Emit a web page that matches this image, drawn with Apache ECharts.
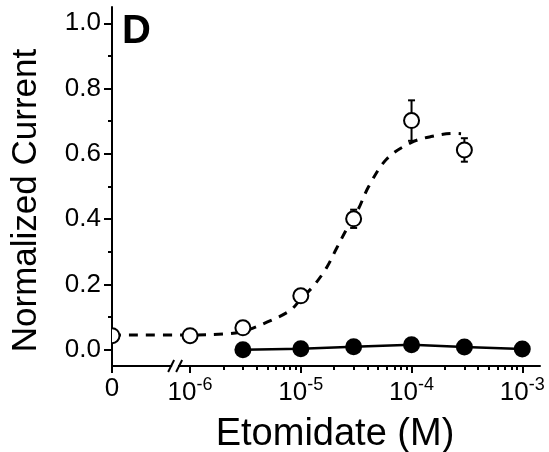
<!DOCTYPE html>
<html>
<head>
<meta charset="utf-8">
<script src="https://cdn.jsdelivr.net/npm/echarts@6/dist/echarts.min.js"></script>
<style>
html,body{margin:0;padding:0;background:#fff;}
#chart{width:549px;height:452px;}
</style>
</head>
<body>
<div id="chart"></div>
<script>
// ---- data ----
const ZERO_POS = -6.705;          // axis position (log10 units) used for concentration 0
const BREAK_POS = -6.135;         // position of the axis break marks
const xTickConc = [0, 1e-6, 1e-5, 1e-4, 1e-3];
const xTickLabels = ['0', '10^-6', '10^-5', '10^-4', '10^-3'];
const yTickValues = [0, 0.2, 0.4, 0.6, 0.8, 1.0];
const yMinorTicks = [0.1, 0.3, 0.5, 0.7, 0.9];

const openConc = [0, 1e-6, 3e-6, 1e-5, 3e-5, 1e-4, 3e-4];
const openMean = [0.043, 0.043, 0.067, 0.165, 0.401, 0.702, 0.612];
const openErr  = [0, 0, 0, 0, 0.028, 0.062, 0.036];

const filledConc = [3e-6, 1e-5, 3e-5, 1e-4, 3e-4, 1e-3];
const filledMean = [0.0, 0.003, 0.009, 0.015, 0.008, 0.002];

const fitConc = [0, 1e-6, 2e-6, 3e-6, 5e-6, 8e-6, 1e-5, 1.3e-5, 1.7e-5, 2.1e-5, 2.6e-5, 3.3e-5, 4.1e-5, 6e-5, 1e-4, 1.5e-4, 2.4e-4, 2.8e-4];
const fitValues = [0.045, 0.045, 0.048, 0.056, 0.085, 0.12, 0.155, 0.195, 0.25, 0.31, 0.37, 0.43, 0.50, 0.585, 0.635, 0.653, 0.663, 0.662];

// ---- helpers ----
function xPos(c){ return c === 0 ? ZERO_POS : Math.log10(c); }
const xTickValues = xTickConc.map(xPos);
const xMinorValues = [];
for (let d = -6; d <= -4; d++) for (let k = 2; k <= 9; k++) xMinorValues.push(Math.log10(k * Math.pow(10, d)));

const FONT = 'Liberation Sans, Arial, Helvetica, sans-serif';

function xLabel(v){
  for (let i = 0; i < xTickValues.length; i++) {
    if (Math.abs(v - xTickValues[i]) < 1e-6) {
      const t = xTickLabels[i];
      if (t.indexOf('^') < 0) return '{z|' + t + '}';
      const p = t.split('^');
      return '{b|' + p[0] + '}{s|' + p[1] + '}';
    }
  }
  return '';
}

const chart = echarts.init(document.getElementById('chart'), null, {renderer: 'canvas'});

const option = {
  animation: false,
  backgroundColor: '#fff',
  grid: {left: 112, right: 9, top: 7, bottom: 86, containLabel: false, outerBoundsMode: 'none'},
  xAxis: [{
    type: 'value', min: ZERO_POS, max: -2.84,
    name: 'Etomidate (M)', nameLocation: 'middle', nameGap: 50,
    nameTextStyle: {fontFamily: FONT, fontSize: 38, color: '#000', padding: [0, 0, 0, 18]},
    axisLine: {show: true, onZero: false, lineStyle: {color: '#000', width: 2}},
    axisTick: {show: true, customValues: xTickValues, length: 7, inside: false, lineStyle: {color: '#000', width: 2}},
    axisLabel: {
      show: true, customValues: xTickValues, margin: 10, color: '#000',
      formatter: xLabel,
      rich: {
        z: {fontFamily: FONT, fontSize: 26, color: '#000', lineHeight: 26},
        b: {fontFamily: FONT, fontSize: 26, color: '#000', lineHeight: 30, verticalAlign: 'bottom'},
        s: {fontFamily: FONT, fontSize: 18, color: '#000', lineHeight: 30, verticalAlign: 'top'}
      }
    },
    splitLine: {show: false}
  }, {
    type: 'value', min: ZERO_POS, max: -2.84, position: 'bottom',
    axisLine: {show: false, onZero: false},
    axisTick: {show: true, customValues: xMinorValues, length: 4, lineStyle: {color: '#000', width: 2}},
    axisLabel: {show: false},
    splitLine: {show: false}
  }],
  yAxis: [{
    type: 'value', min: -0.05, max: 1.05,
    name: 'Normalized Current', nameLocation: 'middle', nameGap: 68, nameRotate: 90,
    nameTextStyle: {fontFamily: FONT, fontSize: 35, color: '#000', padding: [0, 28, 0, 0]},
    axisLine: {show: true, onZero: false, lineStyle: {color: '#000', width: 2}},
    axisTick: {show: true, customValues: yTickValues, length: 8, lineStyle: {color: '#000', width: 2}},
    axisLabel: {show: true, customValues: yTickValues, margin: 11, fontFamily: FONT, fontSize: 26, color: '#000',
      formatter: v => v.toFixed(1)},
    splitLine: {show: false}
  }, {
    type: 'value', min: -0.05, max: 1.05, position: 'left',
    axisLine: {show: false, onZero: false},
    axisTick: {show: true, customValues: yMinorTicks, length: 4, lineStyle: {color: '#000', width: 2}},
    axisLabel: {show: false},
    splitLine: {show: false}
  }],
  series: [{
    name: 'fit', type: 'line', z: 2,
    data: fitConc.map((c, i) => [xPos(c), fitValues[i]]),
    showSymbol: false, symbol: 'none', smooth: 0.35,
    lineStyle: {color: '#000', width: 3, type: [9, 8]}
  }, {
    name: 'filled', type: 'line', z: 3,
    data: filledConc.map((c, i) => [xPos(c), filledMean[i]]),
    symbol: 'circle', symbolSize: 17,
    itemStyle: {color: '#000'},
    lineStyle: {color: '#000', width: 2.5}
  }, {
    name: 'open', type: 'custom', z: 4,
    data: openConc.map((c, i) => [xPos(c), openMean[i], openErr[i]]),
    renderItem: function(params, api){
      const x = api.value(0), y = api.value(1), e = api.value(2);
      const c = api.coord([x, y]);
      const cs = params.coordSys;
      const r = 7.5;
      const children = [];
      if (e > 0) {
        const top = api.coord([x, y + e]), bot = api.coord([x, y - e]);
        const st = {stroke: '#000', lineWidth: 2};
        children.push({type: 'line', shape: {x1: c[0], y1: top[1], x2: c[0], y2: bot[1]}, style: st});
        children.push({type: 'line', shape: {x1: c[0] - 3.5, y1: top[1], x2: c[0] + 3.5, y2: top[1]}, style: st});
        children.push({type: 'line', shape: {x1: c[0] - 3.5, y1: bot[1], x2: c[0] + 3.5, y2: bot[1]}, style: st});
      }
      if (c[0] - r < cs.x) {
        // marker sits on the y axis: only the part inside the plot area is drawn
        const a = Math.acos(Math.max(-1, Math.min(1, (cs.x - c[0]) / r)));
        children.push({type: 'sector', shape: {cx: c[0], cy: c[1], r0: 0, r: r, startAngle: -a, endAngle: a, clockwise: true}, style: {fill: '#fff'}});
        children.push({type: 'arc', shape: {cx: c[0], cy: c[1], r: r, startAngle: -a, endAngle: a, clockwise: true}, style: {fill: null, stroke: '#000', lineWidth: 2}});
      } else {
        children.push({type: 'circle', shape: {cx: c[0], cy: c[1], r: r}, style: {fill: '#fff', stroke: '#000', lineWidth: 2}});
      }
      return {type: 'group', children: children};
    }
  }]
};
chart.setOption(option);

// axis break marks and panel letter
const bx = chart.convertToPixel({xAxisIndex: 0}, BREAK_POS);
const by = chart.convertToPixel({yAxisIndex: 0}, -0.05);
chart.setOption({
  graphic: [
    {type: 'rect', z: 10, shape: {x: bx - 3, y: by - 3, width: 6, height: 6}, style: {fill: '#fff'}},
    {type: 'line', z: 11, shape: {x1: bx - 7, y1: by + 6, x2: bx - 1, y2: by - 6}, style: {stroke: '#000', lineWidth: 2}},
    {type: 'line', z: 11, shape: {x1: bx + 1, y1: by + 6, x2: bx + 7, y2: by - 6}, style: {stroke: '#000', lineWidth: 2}},
    {type: 'text', z: 11, left: 122, top: 12, style: {text: 'D', font: 'bold 40px ' + FONT, fill: '#000'}}
  ]
});
</script>
</body>
</html>
